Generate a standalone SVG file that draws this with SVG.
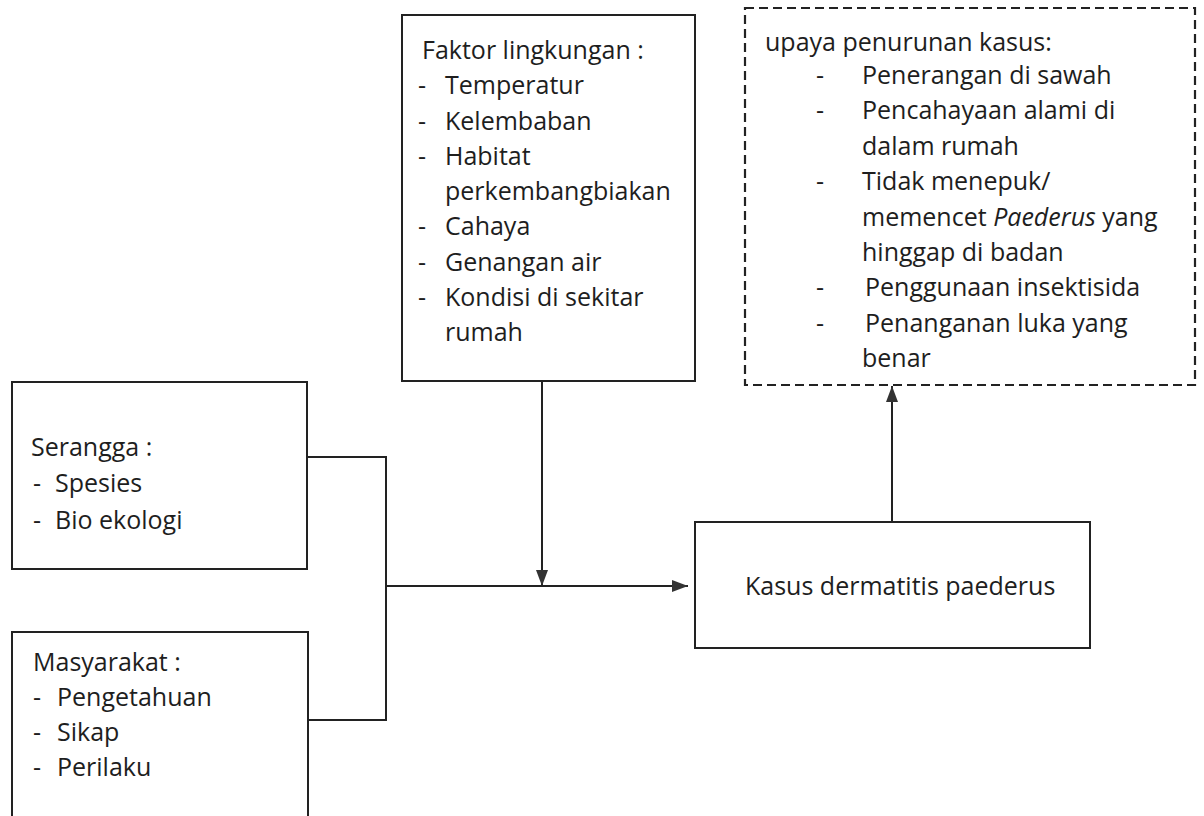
<svg xmlns="http://www.w3.org/2000/svg" width="1204" height="816" viewBox="0 0 1204 816">
<defs>
<style>
.box{fill:#fff;stroke:#222;stroke-width:2}
.dash{fill:#fff;stroke:#222;stroke-width:2.2;stroke-dasharray:9 5}
.t{font-family:"Open Sans","Liberation Sans",sans-serif;font-size:25px;fill:#1e1e1e}
.ln{fill:none;stroke:#222;stroke-width:2}
</style>
<marker id="ah" viewBox="0 0 16 12" refX="16" refY="6" markerWidth="16" markerHeight="12" markerUnits="userSpaceOnUse" orient="auto">
<path d="M0,0 L16,6 L0,12 Z" fill="#333"/>
</marker>
</defs>
<rect width="1204" height="816" fill="#fff"/>

<g id="faktor">
<rect class="box" x="402" y="15" width="293" height="366"/>
<text class="t" x="422" y="59">Faktor lingkungan :</text>
<text class="t" x="418" y="94.3">-</text><text class="t" x="445" y="94.3">Temperatur</text>
<text class="t" x="418" y="129.5">-</text><text class="t" x="445" y="129.5">Kelembaban</text>
<text class="t" x="418" y="164.8">-</text><text class="t" x="445" y="164.8">Habitat</text>
<text class="t" x="445" y="200">perkembangbiakan</text>
<text class="t" x="418" y="235.3">-</text><text class="t" x="445" y="235.3">Cahaya</text>
<text class="t" x="418" y="270.5">-</text><text class="t" x="445" y="270.5">Genangan air</text>
<text class="t" x="418" y="305.8">-</text><text class="t" x="445" y="305.8">Kondisi di sekitar</text>
<text class="t" x="445" y="341">rumah</text>
</g>

<g id="upaya">
<rect class="dash" x="745" y="8" width="450" height="377"/>
<text class="t" x="765" y="51">upaya penurunan kasus:</text>
<text class="t" x="816" y="84">-</text><text class="t" x="862" y="84">Penerangan di sawah</text>
<text class="t" x="816" y="119.4">-</text><text class="t" x="862" y="119.4">Pencahayaan alami di</text>
<text class="t" x="862" y="154.8">dalam rumah</text>
<text class="t" x="816" y="190.2">-</text><text class="t" x="862" y="190.2">Tidak menepuk/</text>
<text class="t" x="862" y="225.6">memencet <tspan font-style="italic">Paederus</tspan> yang</text>
<text class="t" x="862" y="261">hinggap di badan</text>
<text class="t" x="816" y="296.4">-</text><text class="t" x="865" y="296.4">Penggunaan insektisida</text>
<text class="t" x="816" y="331.8">-</text><text class="t" x="865" y="331.8">Penanganan luka yang</text>
<text class="t" x="862" y="367.2">benar</text>
</g>

<g id="serangga">
<rect class="box" x="12" y="382" width="295" height="187"/>
<text class="t" x="31" y="456">Serangga :</text>
<text class="t" x="33" y="492">-</text><text class="t" x="55" y="492">Spesies</text>
<text class="t" x="33" y="529">-</text><text class="t" x="55" y="529">Bio ekologi</text>
</g>

<g id="masyarakat">
<rect class="box" x="12" y="632" width="296" height="200"/>
<text class="t" x="33" y="671">Masyarakat :</text>
<text class="t" x="33" y="706">-</text><text class="t" x="57" y="706">Pengetahuan</text>
<text class="t" x="33" y="741">-</text><text class="t" x="57" y="741">Sikap</text>
<text class="t" x="33" y="776">-</text><text class="t" x="57" y="776">Perilaku</text>
</g>

<g id="kasus">
<rect class="box" x="695" y="522" width="395" height="126"/>
<text class="t" x="745" y="595">Kasus dermatitis paederus</text>
</g>

<g id="connectors">
<polyline class="ln" points="307,457 386,457 386,720 308,720"/>
<line class="ln" x1="386" y1="586" x2="688" y2="586" marker-end="url(#ah)"/>
<line class="ln" x1="542" y1="381" x2="542" y2="586" marker-end="url(#ah)"/>
<line class="ln" x1="892" y1="522" x2="892" y2="386" marker-end="url(#ah)"/>
</g>
</svg>
